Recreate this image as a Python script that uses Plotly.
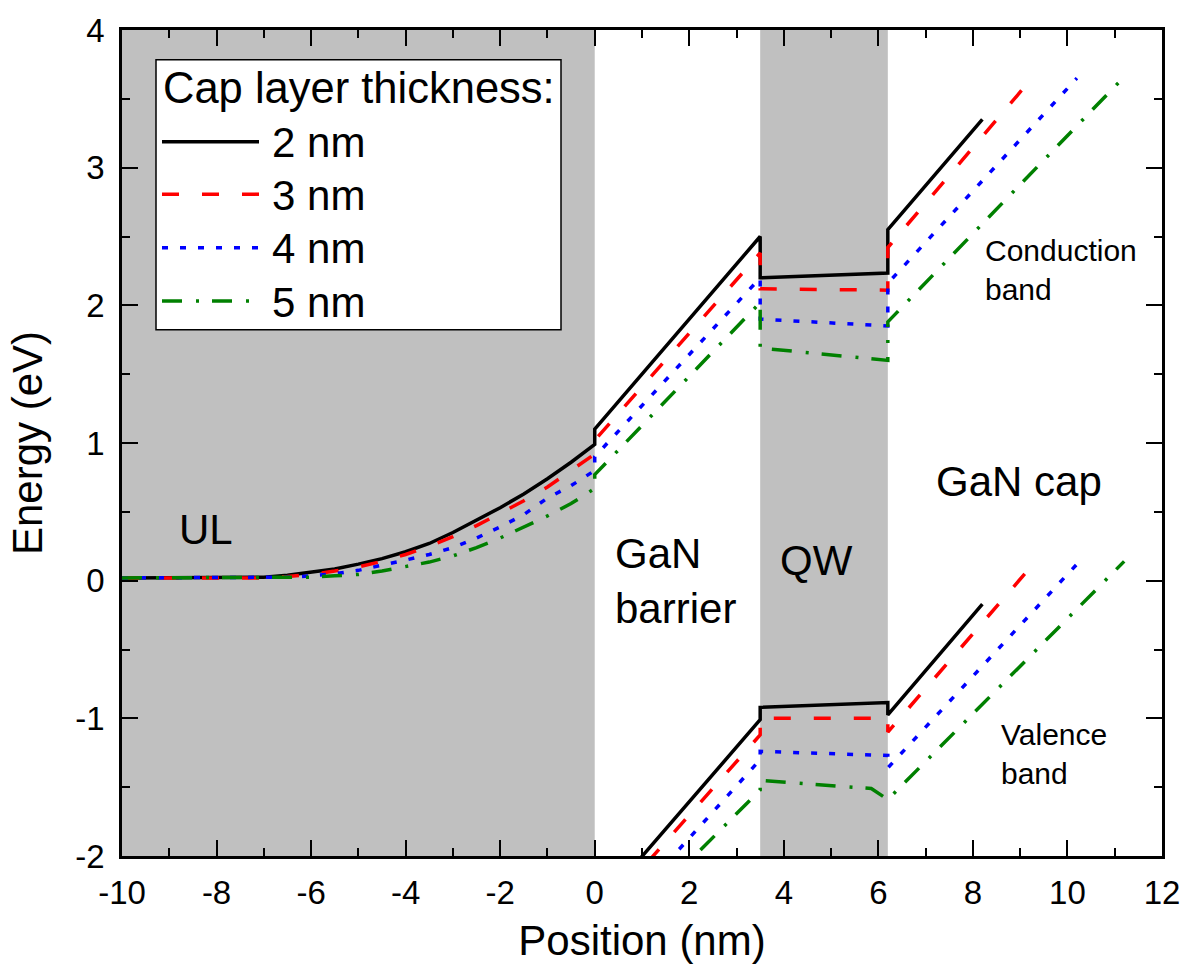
import plotly.graph_objects as go

FONT = "Liberation Sans, Arial, sans-serif"

# ---------------- data ----------------
# Conduction band (UL curve + barrier + QW + cap) for each cap thickness
cb2_x = [-10, -9, -8, -7, -6.5, -6, -5.5, -5, -4.5, -4, -3.5, -3, -2.5, -2, -1.5, -1, -0.5, 0, 0, 3.5, 3.5, 6.2, 6.2, 8.2]
cb2_y = [0.02, 0.02, 0.02, 0.025, 0.04, 0.06, 0.085, 0.12, 0.16, 0.21, 0.27, 0.35, 0.44, 0.53, 0.63, 0.74, 0.86, 0.99, 1.10, 2.50, 2.20, 2.235, 2.55, 3.35]

cb3_x = [-10, -9, -8, -7, -6.5, -6, -5.5, -5, -4.5, -4, -3.5, -3, -2.5, -2, -1.5, -1, -0.5, 0, 0, 3.5, 3.5, 6.2, 6.2, 9.2]
cb3_y = [0.02, 0.02, 0.02, 0.02, 0.03, 0.045, 0.07, 0.10, 0.14, 0.19, 0.25, 0.32, 0.40, 0.49, 0.58, 0.68, 0.80, 0.92, 1.02, 2.38, 2.12, 2.11, 2.42, 3.63]

cb4_x = [-10, -9, -8, -7, -6.5, -6, -5.5, -5, -4.5, -4, -3.5, -3, -2.5, -2, -1.5, -1, -0.5, 0, 0, 3.5, 3.5, 6.2, 6.2, 10.2]
cb4_y = [0.02, 0.02, 0.02, 0.02, 0.025, 0.035, 0.05, 0.075, 0.11, 0.15, 0.19, 0.24, 0.31, 0.39, 0.48, 0.60, 0.69, 0.80, 0.90, 2.20, 1.90, 1.85, 2.16, 3.65]

cb5_x = [-10, -9, -8, -7, -6.5, -6, -5.5, -5, -4.5, -4, -3.5, -3, -2.5, -2, -1.5, -1, -0.5, 0, 0, 3.5, 3.5, 6.2, 6.2, 11.2]
cb5_y = [0.02, 0.02, 0.02, 0.02, 0.02, 0.025, 0.035, 0.045, 0.07, 0.10, 0.135, 0.18, 0.24, 0.31, 0.39, 0.47, 0.56, 0.67, 0.77, 2.02, 1.69, 1.60, 1.88, 3.66]

# Valence band (barrier + QW + cap)
vb2_x = [0, 3.5, 3.5, 6.2, 6.2, 8.2]
vb2_y = [-2.40, -1.01, -0.92, -0.885, -0.975, -0.17]

vb3_x = [0, 3.5, 3.5, 6.2, 6.2, 9.2]
vb3_y = [-2.48, -1.12, -1.00, -1.00, -1.10, 0.09]

vb4_x = [0, 3.5, 3.5, 6.2, 6.2, 10.2]
vb4_y = [-2.63, -1.30, -1.24, -1.27, -1.36, 0.12]

vb5_x = [0, 3.5, 3.5, 5.85, 6.2, 11.2]
vb5_y = [-2.73, -1.52, -1.45, -1.51, -1.59, 0.14]

labels = ["2 nm", "3 nm", "4 nm", "5 nm"]
colors = ["black", "red", "blue", "green"]
dashes = ["solid", "17px,23px", "6px,12px", "20px,14px,3px,13px"]

# Shaded layers (UL and QW)
shade_x0 = [-10, 3.5]
shade_x1 = [0, 6.2]

x_ticks = [-10, -8, -6, -4, -2, 0, 2, 4, 6, 8, 10, 12]
y_ticks = [-2, -1, 0, 1, 2, 3, 4]

cbs = [(cb2_x, cb2_y), (cb3_x, cb3_y), (cb4_x, cb4_y), (cb5_x, cb5_y)]
vbs = [(vb2_x, vb2_y), (vb3_x, vb3_y), (vb4_x, vb4_y), (vb5_x, vb5_y)]

LW = 3.5

fig = go.Figure()
for (cx, cy), (vx, vy), lab, col, dsh in zip(cbs, vbs, labels, colors, dashes):
    fig.add_trace(go.Scatter(x=cx, y=cy, mode="lines", name=lab, showlegend=False,
                             line=dict(color=col, width=LW, dash=dsh)))
    fig.add_trace(go.Scatter(x=vx, y=vy, mode="lines", name=lab, showlegend=False,
                             line=dict(color=col, width=LW, dash=dsh)))

shapes = []
for x0, x1 in zip(shade_x0, shade_x1):
    shapes.append(dict(type="rect", xref="x", yref="y domain", x0=x0, x1=x1, y0=0, y1=1,
                       fillcolor="#c0c0c0", line=dict(width=0), layer="below"))

# manual legend (paper coordinates of plot area: x 122..1162 px, y 21..856 px)
PL, PR, PT, PB = 122, 1162, 21, 856
def px(xp):
    return (xp - PL) / (PR - PL)
def py(yp):
    return (PB - yp) / (PB - PT)

shapes.append(dict(type="rect", xref="paper", yref="paper", x0=px(156), x1=px(561), y0=py(324), y1=py(51),
                   fillcolor="white", line=dict(color="black", width=1.5), layer="above"))
leg_y = [134, 187, 241, 295]
for ly, col, dsh in zip(leg_y, colors, dashes):
    shapes.append(dict(type="line", xref="paper", yref="paper", x0=px(162), x1=px(259), y0=py(ly), y1=py(ly),
                       line=dict(color=col, width=LW, dash=dsh), layer="above"))

annotations = [
    dict(text="Cap layer thickness:", x=px(161), y=py(80), xref="paper", yref="paper",
         xanchor="left", yanchor="middle", showarrow=False, font=dict(size=43.5, family=FONT, color="black")),
]
for ly, lab in zip(leg_y, labels):
    annotations.append(dict(text=lab, x=px(270), y=py(ly + 1), xref="paper", yref="paper",
                            xanchor="left", yanchor="middle", showarrow=False,
                            font=dict(size=42, family=FONT, color="black")))

region_labels = [
    ("UL", -8.22, 0.37, "center", 42),
    ("GaN<br>barrier", 0.38, 0.0, "left", 42),
    ("QW", 4.70, 0.15, "center", 42),
    ("GaN cap", 7.18, 0.72, "left", 42),
    ("Conduction<br>band", 8.22, 2.26, "left", 30),
    ("Valence<br>band", 8.55, -1.26, "left", 30),
]
for txt, x, y, anc, fs in region_labels:
    annotations.append(dict(text=txt, x=x, y=y, xref="x", yref="y", xanchor=anc, yanchor="middle",
                            align="left", showarrow=False, font=dict(size=fs, family=FONT, color="black")))

axis_common = dict(
    showgrid=False, zeroline=False, showline=True, linecolor="black", linewidth=2.5,
    mirror="allticks", ticks="inside", ticklen=16, tickwidth=2, tickcolor="black",
    tickfont=dict(size=33, family=FONT, color="black"),
)

fig.update_layout(
    width=1192, height=976,
    margin=dict(l=PL, r=1192 - PR, t=PT, b=976 - PB),
    plot_bgcolor="white", paper_bgcolor="white",
    shapes=shapes, annotations=annotations,
    xaxis=dict(range=[-10, 12], tickvals=x_ticks, ticktext=[str(v) for v in x_ticks],
               minor=dict(dtick=1, ticks="inside", ticklen=8, tickwidth=2, tickcolor="black"),
               ticklabelstandoff=6,
               title=dict(text="Position (nm)", font=dict(size=42, family=FONT, color="black"), standoff=16),
               **axis_common),
    yaxis=dict(range=[-2, 4], tickvals=y_ticks, ticktext=[str(v) for v in y_ticks],
               minor=dict(dtick=0.5, ticks="inside", ticklen=8, tickwidth=2, tickcolor="black"),
               ticklabelstandoff=8,
               title=dict(text="Energy (eV)", font=dict(size=42, family=FONT, color="black"), standoff=20),
               **axis_common),
)

fig.write_html("out.html")
